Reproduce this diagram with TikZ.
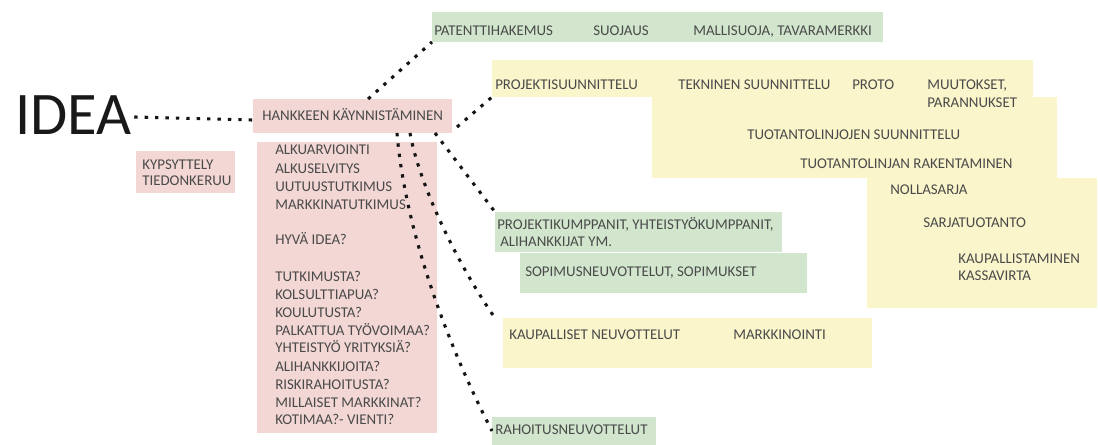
\documentclass[tikz,border=0pt]{standalone}
\usepackage{fontspec}
\setmainfont{Carlito}
\usetikzlibrary{calc}
\definecolor{cPink}{HTML}{F2D7D4}
\definecolor{cGreen}{HTML}{D1E6CD}
\definecolor{cYellow}{HTML}{FAF5CA}
\definecolor{cText}{HTML}{4A4A4A}
\definecolor{cDot}{HTML}{151515}
\newcommand\uc[1]{\MakeUppercase{#1}}
\newcommand\ucx[1]{\expandafter\uc\expandafter{#1}}
\tikzset{
  tbox/.style={fill=#1,anchor=north west,inner sep=0pt,outer sep=0pt},
  tbox/.default=cPink,
  sz/.style 2 args={minimum width=#1*0.025cm,minimum height=#2*0.025cm},
  lbl/.style={font=\fontsize{10.6}{12}\selectfont,text=cText,anchor=base west,inner sep=0pt},
  dots/.style={line width=2.2pt,dash pattern=on 2.4pt off 5pt,color=cDot},
}

\begin{document}
\begin{tikzpicture}[x=0.025cm,y=-0.025cm]
  \useasboundingbox (0,0) rectangle (1098,445);
  \node[tbox,sz={199}{34}] (hanke) at (253,99) {};
  \node[tbox,sz={99}{42}] (kyps) at (136,151) {};
  \node[tbox,sz={180}{291}] (lista) at (257,142) {};
  \node[tbox=cGreen,sz={451}{30}] (patentti) at (432,12) {};
  \node[tbox=cYellow,sz={541}{37}] (projekti) at (492,60) {};
  \node[tbox=cYellow,sz={405}{81}] (tuotanto) at (652,97) {};
  \node[tbox=cYellow,sz={230}{130}] (sarja) at (867,178) {};
  \node[tbox=cGreen,sz={287}{40}] (kumppanit) at (495,212) {};
  \node[tbox=cGreen,sz={287}{40}] (sopimus) at (520,253) {};
  \node[tbox=cYellow,sz={369}{50}] (kaupalliset) at (503,318) {};
  \node[tbox=cGreen,sz={164}{28}] (rahoitus) at (492,417) {};

  \node[font=\fontsize{43}{43}\selectfont,text=black!90,anchor=base west,inner sep=0pt] (idea) at (15,135) {\uc{idea}};

  \node[lbl] (thanke) at (262,120.5) {\uc{hankkeen käynnistäminen}};
  \node[lbl] (tkyps1) at (142,169.5) {\uc{kypsyttely}};
  \node[lbl] (tkyps2) at (142,185.5) {\uc{tiedonkeruu}};
  \foreach \y/\t [count=\k] in {154.5/alkuarviointi,173.5/alkuselvitys,191.5/uutuustutkimus,209.5/markkinatutkimus,
      244.5/hyvä idea?,281.5/tutkimusta?,299.5/kolsulttiapua?,317/koulutusta?,335/palkattua työvoimaa?,
      353/yhteistyö yrityksiä?,371.5/alihankkijoita?,389.5/riskirahoitusta?,407.5/millaiset markkinat?,424/kotimaa?- vienti?}{
    \node[lbl] (tlista\k) at (275,\y) {\ucx{\t}};}

  \foreach \x/\t [count=\k] in {434/patenttihakemus,593/suojaus,693/{mallisuoja, tavaramerkki}}{
    \node[lbl] (tpat\k) at (\x,36) {\ucx{\t}};}
  \foreach \x/\t [count=\k] in {495/projektisuunnittelu,678/tekninen suunnittelu,852/proto,927/{muutokset,}}{
    \node[lbl] (tproj\k) at (\x,89.5) {\ucx{\t}};}
  \node[lbl] (tproj5) at (927,107.5) {\uc{parannukset}};
  \node[lbl] (ttuot1) at (747,139.5) {\uc{tuotantolinjojen suunnittelu}};
  \node[lbl] (ttuot2) at (800,168.5) {\uc{tuotantolinjan rakentaminen}};
  \node[lbl] (tsarja1) at (890,194.5) {\uc{nollasarja}};
  \node[lbl] (tsarja2) at (923,227.5) {\uc{sarjatuotanto}};
  \node[lbl] (tsarja3) at (958,263.5) {\uc{kaupallistaminen}};
  \node[lbl] (tsarja4) at (958,280.5) {\uc{kassavirta}};
  \node[lbl] (tkump1) at (497,229.5) {\uc{projektikumppanit, yhteistyökumppanit,}};
  \node[lbl] (tkump2) at (500,246.5) {\uc{alihankkijat ym.}};
  \node[lbl] (tsop) at (525,276.5) {\uc{sopimusneuvottelut, sopimukset}};
  \node[lbl] (tkaup1) at (509,339.5) {\uc{kaupalliset neuvottelut}};
  \node[lbl] (tkaup2) at (733,339.5) {\uc{markkinointi}};
  \node[lbl] (traha) at (495,434.5) {\uc{rahoitusneuvottelut}};

  \draw[dots] ([xshift=0.06cm,yshift=0.45cm]idea.base east) -- ([yshift=-0.1cm]hanke.west);
  \draw[dots] ([xshift=0.39cm]hanke.north) -- (patentti.south west);
  \draw[dots] ([xshift=0.125cm,yshift=-0.275cm]hanke.east) -- (projekti.south west);
  \draw[dots] ([xshift=-0.425cm]hanke.south east) -- (kumppanit.north west);
  \draw[dots] ([xshift=-1.05cm]hanke.south east) .. controls +(10,55) and +(-35,-50) .. ([xshift=-0.2cm]kaupalliset.north west);
  \draw[dots] ([xshift=-1.375cm]hanke.south east) .. controls +(8,95) and +(-47,-91) .. (rahoitus.west);
\end{tikzpicture}
\end{document}
